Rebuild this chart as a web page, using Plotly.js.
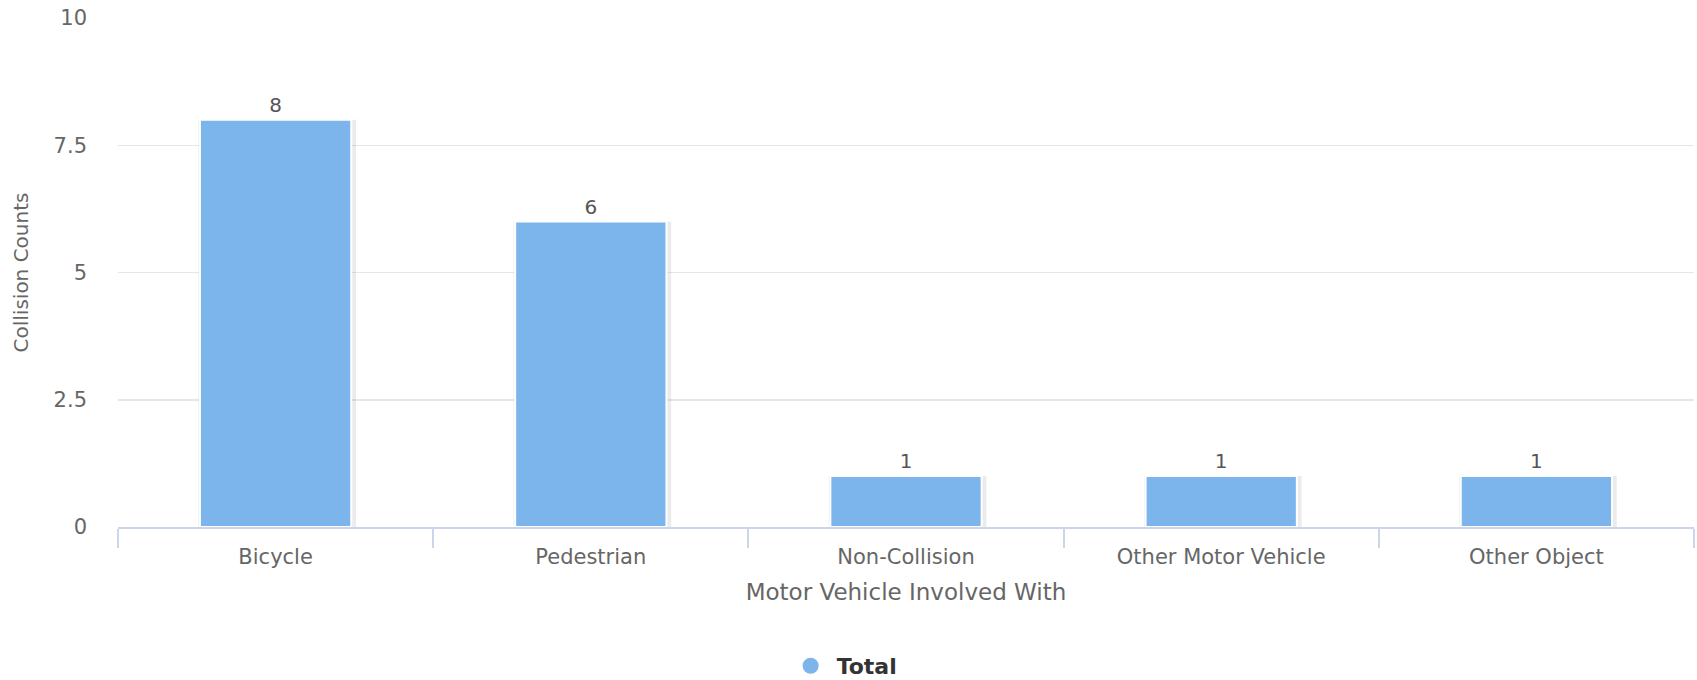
<!DOCTYPE html>
<html>
<head>
<meta charset="utf-8">
<script src="https://cdn.plot.ly/plotly-3.0.1.min.js"></script>
<style>html,body{margin:0;padding:0;background:#fff;}#chart{width:1697px;height:680px;}</style>
</head>
<body>
<div id="chart"></div>
<script>
const categories = ["Bicycle", "Pedestrian", "Non-Collision", "Other Motor Vehicle", "Other Object"];
const totals = [8, 6, 1, 1, 1];
const seriesName = "Total";
const yTickValues = [0, 2.5, 5, 7.5, 10];
const yTickLabels = ["0", "2.5", "5", "7.5", "10"];

const FONT = "'DejaVu Sans', 'Lucida Grande', sans-serif";
const BAR = "#7cb5ec";

const shadow = {
  type: "bar", x: categories, y: totals, width: 0.5, offset: -0.245,
  marker: {color: "rgba(0,0,0,0.08)", line: {width: 0}},
  hoverinfo: "skip", showlegend: false
};
const bars = {
  type: "bar", x: categories, y: totals, name: seriesName, width: 0.48,
  marker: {color: BAR, line: {color: "#ffffff", width: 2}},
  text: totals.map(String), textposition: "outside", cliponaxis: false,
  textfont: {family: FONT, size: 20, color: "#555"},
  showlegend: false
};
const legendItem = {
  type: "scatter", mode: "markers", x: [null], y: [null], name: seriesName,
  marker: {color: BAR, size: 22, symbol: "circle"}
};

const layout = {
  width: 1697, height: 680,
  margin: {l: 118, r: 3, t: 18, b: 153, autoexpand: false},
  paper_bgcolor: "#fff", plot_bgcolor: "#fff",
  font: {family: FONT, color: "#666", size: 21},
  barmode: "overlay",
  showlegend: true,
  legend: {orientation: "h", x: 0.423, xanchor: "left", y: -0.273, yanchor: "middle",
           itemwidth: 42,
           font: {family: FONT, size: 22, color: "#333", weight: "bold"}, itemsizing: "trace"},
  xaxis: {
    type: "category", showgrid: false, zeroline: false,
    showline: true, linecolor: "#ccd6eb", linewidth: 2,
    ticks: "outside", tickson: "boundaries", ticklen: 19, tickcolor: "#ccd6eb", tickwidth: 2,
    ticklabelstandoff: 10,
    tickfont: {family: FONT, size: 21, color: "#666"},
    title: {text: "Motor Vehicle Involved With", font: {family: FONT, size: 23, color: "#666"}, standoff: 16},
    automargin: false
  },
  yaxis: {
    range: [0, 10], tickvals: yTickValues, ticktext: yTickLabels,
    showgrid: true, gridcolor: "#e6e6e6", gridwidth: 1.5, zeroline: false,
    showline: false, ticks: "",
    ticklabelstandoff: 30,
    tickfont: {family: FONT, size: 21, color: "#666"},
    title: {text: "Collision Counts", font: {family: FONT, size: 20, color: "#666"}, standoff: 19},
    automargin: false
  }
};

Plotly.newPlot("chart", [shadow, bars, legendItem], layout, {displayModeBar: false, staticPlot: true});
</script>
</body>
</html>
